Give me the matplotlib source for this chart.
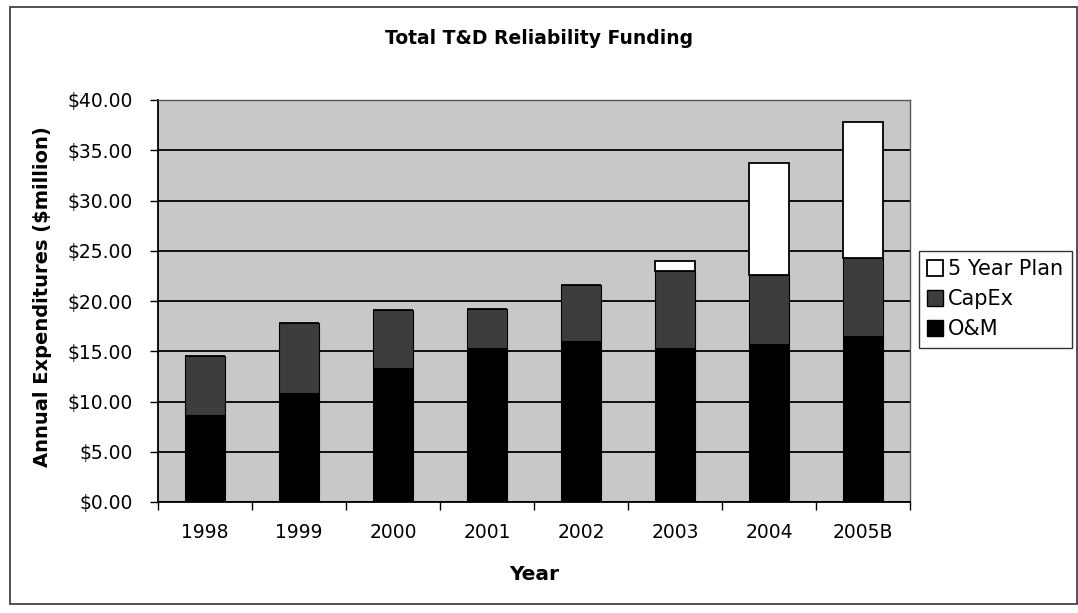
import matplotlib
matplotlib.use("Agg")
import matplotlib.pyplot as plt
from matplotlib.patches import Rectangle, Patch

plt.rcParams['font.family'] = ['DejaVu Sans']

years = ["1998", "1999", "2000", "2001", "2002", "2003", "2004", "2005B"]
om = [8.7, 10.8, 13.3, 15.3, 16.0, 15.3, 15.7, 16.5]
capex = [5.8, 7.0, 5.8, 3.9, 5.6, 7.7, 6.9, 7.8]
plan = [0.0, 0.0, 0.0, 0.0, 0.0, 1.0, 11.1, 13.5]
yticks = [0, 5, 10, 15, 20, 25, 30, 35, 40]

W, H = 1078, 613
fig = plt.figure(figsize=(W / 100, H / 100), dpi=100)
fig.patch.set_facecolor('white')

# outer chart frame
fig.add_artist(Rectangle((10 / W, 1 - 604 / H), (1077 - 10) / W, (604 - 7) / H,
                         transform=fig.transFigure, fill=False,
                         edgecolor='#333333', linewidth=1.2))

ax = fig.add_axes([158 / W, 1 - 502 / H, (910 - 158) / W, (502 - 100) / H])
ax.set_facecolor('#c8c8c8')

x = list(range(len(years)))
w = 0.43
bottom2 = [a for a in om]
bottom3 = [a + b for a, b in zip(om, capex)]
ax.bar(x, om, w, color='black', edgecolor='black', linewidth=0.8, zorder=3, label='O&M')
ax.bar(x, capex, w, bottom=bottom2, color='#3d3d3d', edgecolor='black', linewidth=0.8,
       zorder=3, label='CapEx')
ax.bar(x, plan, w, bottom=bottom3, color='white', edgecolor='black', linewidth=1.3,
       zorder=3, label='5 Year Plan')

ax.set_xlim(-0.5, len(years) - 0.5)
ax.set_ylim(0, 40)
ax.set_yticks(yticks)
ax.set_yticklabels([f"${v:.2f}" for v in yticks], fontsize=13.5)
ax.yaxis.grid(True, color='black', linewidth=1.3, zorder=1)
ax.set_axisbelow(True)

ax.set_xticks(x)
ax.set_xticklabels(years, fontsize=13.5)
ax.set_xticks([i - 0.5 for i in range(len(years) + 1)], minor=True)
ax.tick_params(axis='x', which='major', length=0, pad=15)
ax.tick_params(axis='x', which='minor', length=6, width=1, color='black', direction='out')
ax.tick_params(axis='y', length=6, width=1, color='black', pad=12)

for s in ['left', 'bottom']:
    ax.spines[s].set_color('black')
    ax.spines[s].set_linewidth(1.3)
for s in ['top', 'right']:
    ax.spines[s].set_color('#555555')
    ax.spines[s].set_linewidth(1.0)

fig.text(539 / W, 1 - 39 / H, "Total T&D Reliability Funding", ha='center', va='center',
         fontsize=13.5, fontweight='bold')
fig.text(43 / W, 1 - 297 / H, "Annual Expenditures ($million)", ha='center', va='center',
         rotation=90, fontsize=14, fontweight='bold')
fig.text(534 / W, 1 - 575 / H, "Year", ha='center', va='center',
         fontsize=14.5, fontweight='bold')

handles = [Patch(facecolor='white', edgecolor='black', linewidth=1.3),
           Patch(facecolor='#3d3d3d', edgecolor='black'),
           Patch(facecolor='black', edgecolor='black')]
labels = ['5 Year Plan', 'CapEx', 'O&M']
leg = fig.legend(handles, labels, loc='upper left',
                 bbox_to_anchor=(919 / W, 1 - 251 / H), fontsize=15,
                 frameon=True, fancybox=False, handlelength=0.75, handleheight=0.75,
                 handletextpad=0.25, borderpad=0.4, labelspacing=0.48,
                 borderaxespad=0)
leg.get_frame().set_edgecolor('black')
leg.get_frame().set_linewidth(1.0)

fig.savefig('out.png', dpi=100)
